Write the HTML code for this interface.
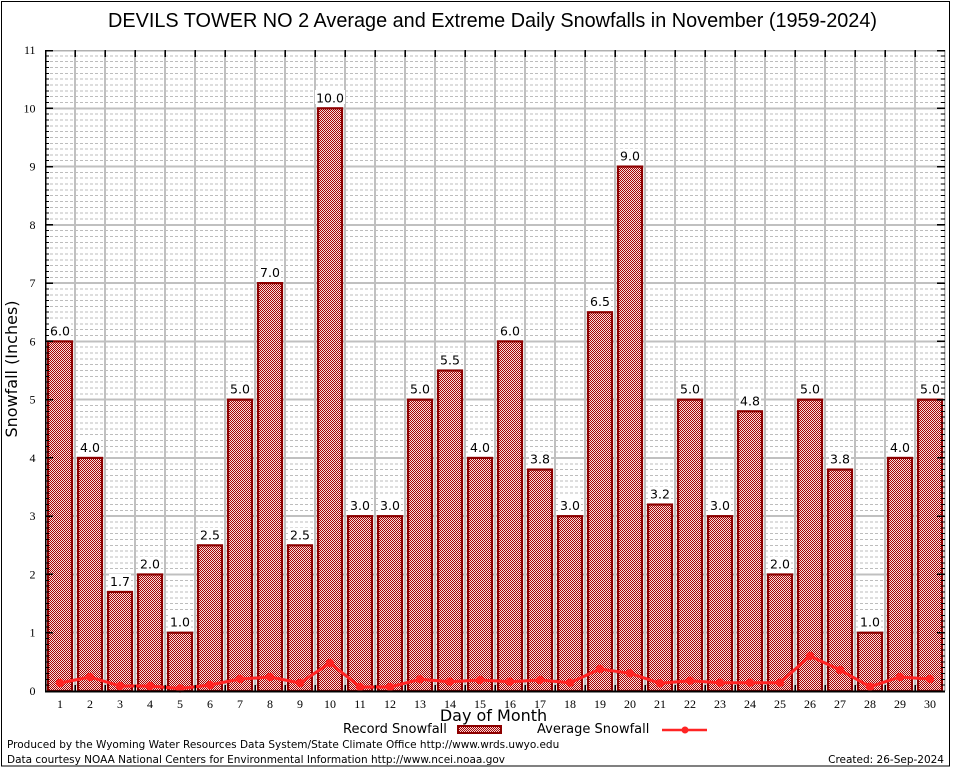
<!DOCTYPE html>
<html><head><meta charset="utf-8"><style>
html,body{margin:0;padding:0;background:#fff;}
svg{display:block;}
.s{font-family:"DejaVu Sans","Liberation Sans",sans-serif;}
.r{font-family:"Liberation Serif",serif;font-size:12px;}
</style></head><body>
<svg width="954" height="768" viewBox="0 0 954 768" xmlns="http://www.w3.org/2000/svg">
<defs>
<pattern id="ck" patternUnits="userSpaceOnUse" width="2" height="2">
<rect x="0" y="0" width="2" height="2" fill="#f4dede"/>
<rect x="0" y="0" width="1" height="1" fill="#a80000"/>
<rect x="1" y="1" width="1" height="1" fill="#a80000"/>
</pattern>
</defs>
<rect width="954" height="768" fill="#fff"/>
<rect x="1.5" y="1.5" width="948" height="764.5" fill="none" stroke="#000" stroke-width="1"/>

<text x="108" y="27" font-family="Liberation Sans, Arial, sans-serif" font-size="20" textLength="769" lengthAdjust="spacingAndGlyphs">DEVILS TOWER NO 2 Average and Extreme Daily Snowfalls in November (1959-2024)</text>

<!-- minor grid -->
<path shape-rendering="crispEdges" fill="none" stroke="#bdbdbd" stroke-width="1" stroke-dasharray="3 2" d="
M45 685.17H945M45 679.35H945M45 673.52H945M45 667.69H945M45 661.86H945M45 656.04H945M45 650.21H945M45 644.38H945M45 638.56H945
M45 626.90H945M45 621.08H945M45 615.25H945M45 609.42H945M45 603.59H945M45 597.77H945M45 591.94H945M45 586.11H945M45 580.29H945
M45 568.63H945M45 562.81H945M45 556.98H945M45 551.15H945M45 545.32H945M45 539.50H945M45 533.67H945M45 527.84H945M45 522.02H945
M45 510.36H945M45 504.54H945M45 498.71H945M45 492.88H945M45 487.05H945M45 481.23H945M45 475.40H945M45 469.57H945M45 463.75H945
M45 452.09H945M45 446.27H945M45 440.44H945M45 434.61H945M45 428.78H945M45 422.96H945M45 417.13H945M45 411.30H945M45 405.48H945
M45 393.82H945M45 388.00H945M45 382.17H945M45 376.34H945M45 370.51H945M45 364.69H945M45 358.86H945M45 353.03H945M45 347.21H945
M45 335.55H945M45 329.73H945M45 323.90H945M45 318.07H945M45 312.24H945M45 306.42H945M45 300.59H945M45 294.76H945M45 288.94H945
M45 277.28H945M45 271.46H945M45 265.63H945M45 259.80H945M45 253.97H945M45 248.15H945M45 242.32H945M45 236.49H945M45 230.67H945
M45 219.01H945M45 213.19H945M45 207.36H945M45 201.53H945M45 195.70H945M45 189.88H945M45 184.05H945M45 178.22H945M45 172.40H945
M45 160.74H945M45 154.92H945M45 149.09H945M45 143.26H945M45 137.43H945M45 131.61H945M45 125.78H945M45 119.95H945M45 114.13H945
M45 102.47H945M45 96.65H945M45 90.82H945M45 84.99H945M45 79.16H945M45 73.34H945M45 67.51H945M45 61.68H945M45 55.86H945"/>
<!-- major grid -->
<path shape-rendering="crispEdges" fill="none" stroke="#c0c0c0" stroke-width="2" d="
M45 632.73H945M45 574.46H945M45 516.19H945M45 457.92H945M45 399.65H945M45 341.38H945M45 283.11H945M45 224.84H945M45 166.57H945M45 108.3H945
M75 50V691M105 50V691M135 50V691M165 50V691M195 50V691M225 50V691M255 50V691M285 50V691M315 50V691M345 50V691
M375 50V691M405 50V691M435 50V691M465 50V691M495 50V691M525 50V691M555 50V691M585 50V691M615 50V691M645 50V691
M675 50V691M705 50V691M735 50V691M765 50V691M795 50V691M825 50V691M855 50V691M885 50V691M915 50V691"/>
<path shape-rendering="crispEdges" fill="none" stroke="#b0b0b0" stroke-width="1.5" d="M45 50.5H944.5V691"/>

<!-- label boxes -->
<g fill="#fff">
<rect x="49" y="323" width="22" height="14"/><rect x="79" y="440" width="22" height="14"/><rect x="109" y="574" width="22" height="14"/>
<rect x="139" y="557" width="22" height="14"/><rect x="169" y="615" width="22" height="14"/><rect x="199" y="528" width="22" height="14"/>
<rect x="229" y="382" width="22" height="14"/><rect x="259" y="265" width="22" height="14"/><rect x="289" y="528" width="22" height="14"/>
<rect x="315" y="90" width="30" height="14"/><rect x="349" y="498" width="22" height="14"/><rect x="379" y="498" width="22" height="14"/>
<rect x="409" y="382" width="22" height="14"/><rect x="439" y="353" width="22" height="14"/><rect x="469" y="440" width="22" height="14"/>
<rect x="499" y="323" width="22" height="14"/><rect x="529" y="452" width="22" height="14"/><rect x="559" y="498" width="22" height="14"/>
<rect x="589" y="294" width="22" height="14"/><rect x="619" y="149" width="22" height="14"/><rect x="649" y="487" width="22" height="14"/>
<rect x="679" y="382" width="22" height="14"/><rect x="709" y="498" width="22" height="14"/><rect x="739" y="393" width="22" height="14"/>
<rect x="769" y="557" width="22" height="14"/><rect x="799" y="382" width="22" height="14"/><rect x="829" y="452" width="22" height="14"/>
<rect x="859" y="615" width="22" height="14"/><rect x="889" y="440" width="22" height="14"/><rect x="919" y="382" width="22" height="14"/>
</g>

<!-- bars -->
<g fill="url(#ck)" stroke="#8c0000" stroke-width="2.2">
<rect x="48" y="341.38" width="24" height="349.62"/>
<rect x="78" y="457.92" width="24" height="233.08"/>
<rect x="108" y="591.94" width="24" height="99.06"/>
<rect x="138" y="574.46" width="24" height="116.54"/>
<rect x="168" y="632.73" width="24" height="58.27"/>
<rect x="198" y="545.32" width="24" height="145.68"/>
<rect x="228" y="399.65" width="24" height="291.35"/>
<rect x="258" y="283.11" width="24" height="407.89"/>
<rect x="288" y="545.32" width="24" height="145.68"/>
<rect x="318" y="108.3" width="24" height="582.7"/>
<rect x="348" y="516.19" width="24" height="174.81"/>
<rect x="378" y="516.19" width="24" height="174.81"/>
<rect x="408" y="399.65" width="24" height="291.35"/>
<rect x="438" y="370.51" width="24" height="320.49"/>
<rect x="468" y="457.92" width="24" height="233.08"/>
<rect x="498" y="341.38" width="24" height="349.62"/>
<rect x="528" y="469.57" width="24" height="221.43"/>
<rect x="558" y="516.19" width="24" height="174.81"/>
<rect x="588" y="312.24" width="24" height="378.76"/>
<rect x="618" y="166.57" width="24" height="524.43"/>
<rect x="648" y="504.54" width="24" height="186.46"/>
<rect x="678" y="399.65" width="24" height="291.35"/>
<rect x="708" y="516.19" width="24" height="174.81"/>
<rect x="738" y="411.30" width="24" height="279.70"/>
<rect x="768" y="574.46" width="24" height="116.54"/>
<rect x="798" y="399.65" width="24" height="291.35"/>
<rect x="828" y="469.57" width="24" height="221.43"/>
<rect x="858" y="632.73" width="24" height="58.27"/>
<rect x="888" y="457.92" width="24" height="233.08"/>
<rect x="918" y="399.65" width="24" height="291.35"/>
</g>

<!-- value labels -->
<g class="s" font-size="12.5" text-anchor="middle" fill="#000">
<text x="60" y="335.4">6.0</text><text x="90" y="451.9">4.0</text><text x="120" y="585.9">1.7</text>
<text x="150" y="568.5">2.0</text><text x="180" y="626.7">1.0</text><text x="210" y="539.3">2.5</text>
<text x="240" y="393.6">5.0</text><text x="270" y="277.1">7.0</text><text x="300" y="539.3">2.5</text>
<text x="330" y="102.3">10.0</text><text x="360" y="510.2">3.0</text><text x="390" y="510.2">3.0</text>
<text x="420" y="393.6">5.0</text><text x="450" y="364.5">5.5</text><text x="480" y="451.9">4.0</text>
<text x="510" y="335.4">6.0</text><text x="540" y="463.6">3.8</text><text x="570" y="510.2">3.0</text>
<text x="600" y="306.2">6.5</text><text x="630" y="160.6">9.0</text><text x="660" y="498.5">3.2</text>
<text x="690" y="393.6">5.0</text><text x="720" y="510.2">3.0</text><text x="750" y="405.3">4.8</text>
<text x="780" y="568.5">2.0</text><text x="810" y="393.6">5.0</text><text x="840" y="463.6">3.8</text>
<text x="870" y="626.7">1.0</text><text x="900" y="451.9">4.0</text><text x="930" y="393.6">5.0</text>
</g>

<!-- average line -->
<polyline fill="none" stroke="#ff2424" stroke-width="3" stroke-linejoin="round" points="60,683 90,677 120,686 150,686 180,688.5 210,685 240,679 270,677 300,683 330,663 360,687 390,687 420,679.3 450,681.7 480,680 510,681.7 540,680 570,682.7 600,669 630,673.3 660,683.3 690,680.7 720,682.7 750,682.7 780,682.7 810,656 840,670 870,686.7 900,677 930,679"/>
<g fill="#ff2424">
<circle cx="60" cy="683" r="4.2"/><circle cx="90" cy="677" r="4.2"/><circle cx="120" cy="686" r="4.2"/><circle cx="150" cy="686" r="4.2"/>
<circle cx="180" cy="688.5" r="4.2"/><circle cx="210" cy="685" r="4.2"/><circle cx="240" cy="679" r="4.2"/><circle cx="270" cy="677" r="4.2"/>
<circle cx="300" cy="683" r="4.2"/><circle cx="330" cy="663" r="4.2"/><circle cx="360" cy="687" r="4.2"/><circle cx="390" cy="687" r="4.2"/>
<circle cx="420" cy="679.3" r="4.2"/><circle cx="450" cy="681.7" r="4.2"/><circle cx="480" cy="680" r="4.2"/><circle cx="510" cy="681.7" r="4.2"/>
<circle cx="540" cy="680" r="4.2"/><circle cx="570" cy="682.7" r="4.2"/><circle cx="600" cy="669" r="4.2"/><circle cx="630" cy="673.3" r="4.2"/>
<circle cx="660" cy="683.3" r="4.2"/><circle cx="690" cy="680.7" r="4.2"/><circle cx="720" cy="682.7" r="4.2"/><circle cx="750" cy="682.7" r="4.2"/>
<circle cx="780" cy="682.7" r="4.2"/><circle cx="810" cy="656" r="4.2"/><circle cx="840" cy="670" r="4.2"/><circle cx="870" cy="686.7" r="4.2"/>
<circle cx="900" cy="677" r="4.2"/><circle cx="930" cy="679" r="4.2"/>
</g>

<!-- ticks -->
<path shape-rendering="crispEdges" fill="none" stroke="#000" stroke-width="1" stroke-dasharray="4 892 4 1000" d="
M45 685.17H945M45 679.35H945M45 673.52H945M45 667.69H945M45 661.86H945M45 656.04H945M45 650.21H945M45 644.38H945M45 638.56H945
M45 626.90H945M45 621.08H945M45 615.25H945M45 609.42H945M45 603.59H945M45 597.77H945M45 591.94H945M45 586.11H945M45 580.29H945
M45 568.63H945M45 562.81H945M45 556.98H945M45 551.15H945M45 545.32H945M45 539.50H945M45 533.67H945M45 527.84H945M45 522.02H945
M45 510.36H945M45 504.54H945M45 498.71H945M45 492.88H945M45 487.05H945M45 481.23H945M45 475.40H945M45 469.57H945M45 463.75H945
M45 452.09H945M45 446.27H945M45 440.44H945M45 434.61H945M45 428.78H945M45 422.96H945M45 417.13H945M45 411.30H945M45 405.48H945
M45 393.82H945M45 388.00H945M45 382.17H945M45 376.34H945M45 370.51H945M45 364.69H945M45 358.86H945M45 353.03H945M45 347.21H945
M45 335.55H945M45 329.73H945M45 323.90H945M45 318.07H945M45 312.24H945M45 306.42H945M45 300.59H945M45 294.76H945M45 288.94H945
M45 277.28H945M45 271.46H945M45 265.63H945M45 259.80H945M45 253.97H945M45 248.15H945M45 242.32H945M45 236.49H945M45 230.67H945
M45 219.01H945M45 213.19H945M45 207.36H945M45 201.53H945M45 195.70H945M45 189.88H945M45 184.05H945M45 178.22H945M45 172.40H945
M45 160.74H945M45 154.92H945M45 149.09H945M45 143.26H945M45 137.43H945M45 131.61H945M45 125.78H945M45 119.95H945M45 114.13H945
M45 102.47H945M45 96.65H945M45 90.82H945M45 84.99H945M45 79.16H945M45 73.34H945M45 67.51H945M45 61.68H945M45 55.86H945"/>
<path shape-rendering="crispEdges" fill="none" stroke="#000" stroke-width="1.5" stroke-dasharray="8 884 8 1000" d="
M45 632.73H945M45 574.46H945M45 516.19H945M45 457.92H945M45 399.65H945M45 341.38H945M45 283.11H945M45 224.84H945M45 166.57H945M45 108.3H945M45 50.5H945"/>
<path shape-rendering="crispEdges" fill="none" stroke="#000" stroke-width="1.5" d="
M75 50V57M105 50V57M135 50V57M165 50V57M195 50V57M225 50V57M255 50V57M285 50V57M315 50V57M345 50V57
M375 50V57M405 50V57M435 50V57M465 50V57M495 50V57M525 50V57M555 50V57M585 50V57M615 50V57M645 50V57
M675 50V57M705 50V57M735 50V57M765 50V57M795 50V57M825 50V57M855 50V57M885 50V57M915 50V57
M75 685V691M105 685V691M135 685V691M165 685V691M195 685V691M225 685V691M255 685V691M285 685V691M315 685V691M345 685V691
M375 685V691M405 685V691M435 685V691M465 685V691M495 685V691M525 685V691M555 685V691M585 685V691M615 685V691M645 685V691
M675 685V691M705 685V691M735 685V691M765 685V691M795 685V691M825 685V691M855 685V691M885 685V691M915 685V691"/>
<path shape-rendering="crispEdges" fill="none" stroke="#000" stroke-width="1.5" d="M45.5 50V692"/>
<path shape-rendering="crispEdges" fill="none" stroke="#000" stroke-width="2" d="M45 691.5H945"/>

<!-- y tick labels -->
<g class="r" text-anchor="end">
<text x="35.5" y="695">0</text><text x="35.5" y="636.7">1</text><text x="35.5" y="578.5">2</text>
<text x="35.5" y="520.2">3</text><text x="35.5" y="461.9">4</text><text x="35.5" y="403.6">5</text>
<text x="35.5" y="345.4">6</text><text x="35.5" y="287.1">7</text><text x="35.5" y="228.8">8</text>
<text x="35.5" y="170.6">9</text><text x="35.5" y="112.3">10</text><text x="35.5" y="54">11</text>
</g>
<!-- x tick labels -->
<g class="r" text-anchor="middle">
<text x="60" y="708">1</text><text x="90" y="708">2</text><text x="120" y="708">3</text><text x="150" y="708">4</text>
<text x="180" y="708">5</text><text x="210" y="708">6</text><text x="240" y="708">7</text><text x="270" y="708">8</text>
<text x="300" y="708">9</text><text x="330" y="708">10</text><text x="360" y="708">11</text><text x="390" y="708">12</text>
<text x="420" y="708">13</text><text x="450" y="708">14</text><text x="480" y="708">15</text><text x="510" y="708">16</text>
<text x="540" y="708">17</text><text x="570" y="708">18</text><text x="600" y="708">19</text><text x="630" y="708">20</text>
<text x="660" y="708">21</text><text x="690" y="708">22</text><text x="720" y="708">23</text><text x="750" y="708">24</text>
<text x="780" y="708">25</text><text x="810" y="708">26</text><text x="840" y="708">27</text><text x="870" y="708">28</text>
<text x="900" y="708">29</text><text x="930" y="708">30</text>
</g>

<text class="s" x="493.5" y="721" font-size="16" text-anchor="middle">Day of Month</text>
<text class="s" font-size="16" text-anchor="middle" transform="translate(17,369) rotate(-90)">Snowfall (Inches)</text>

<!-- legend -->
<text class="s" x="343" y="733" font-size="13">Record Snowfall</text>
<rect x="458" y="726" width="43" height="7" fill="url(#ck)" stroke="#8c0000" stroke-width="2"/>
<text class="s" x="537" y="733" font-size="13">Average Snowfall</text>
<path d="M662 730H707" stroke="#ff2424" stroke-width="2.5"/>
<circle cx="685" cy="730" r="3.5" fill="#ff2424"/>

<!-- footer -->
<text class="s" x="7" y="748" font-size="10.5">Produced by the Wyoming Water Resources Data System/State Climate Office http://www.wrds.uwyo.edu</text>
<text class="s" x="7" y="763" font-size="10.5">Data courtesy NOAA National Centers for Environmental Information http://www.ncei.noaa.gov</text>
<text class="s" x="944" y="763" font-size="10.5" text-anchor="end">Created: 26-Sep-2024</text>
</svg>
</body></html>
